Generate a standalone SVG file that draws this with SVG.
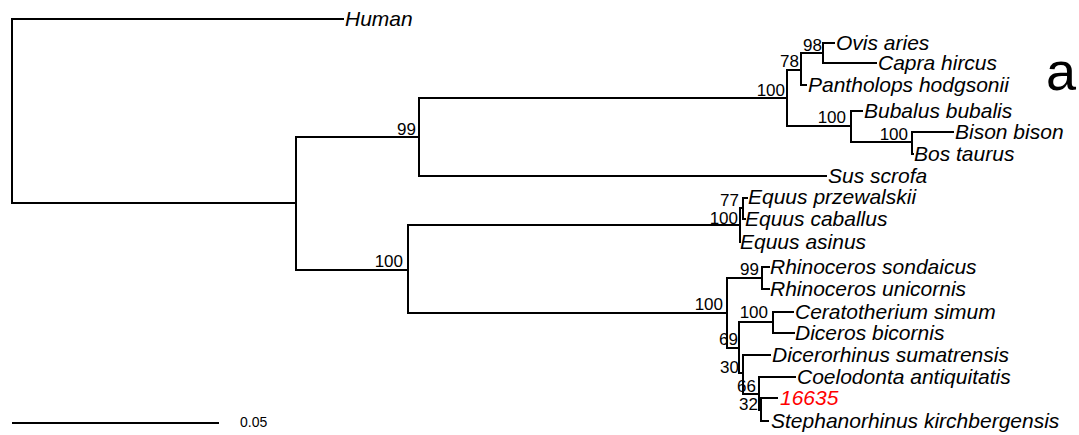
<svg xmlns="http://www.w3.org/2000/svg" width="1079" height="435" viewBox="0 0 1079 435">
  <style>
    .br { fill: none; stroke: #000; stroke-width: 2; stroke-linecap: square; stroke-linejoin: miter; }
    .tip { font-family: "Liberation Sans", Arial, sans-serif; font-style: italic; font-size: 21px; fill: #000; }
    .tip.hl { fill: #ff0000; }
    .bs { font-family: "Liberation Sans", Arial, sans-serif; font-size: 17px; fill: #000; text-anchor: end; }
    .scale { font-family: "Liberation Sans", Arial, sans-serif; font-size: 14px; fill: #000; }
    .panel { font-family: "Liberation Sans", Arial, sans-serif; font-size: 54px; fill: #000; }
  </style>
  <rect width="1079" height="435" fill="#fff"/>

  <!-- branches: each edge runs vertically from the parent node, then horizontally to the child -->
  <g id="connectors" class="br">
    <path d="M12,111 V19 H343"/>
    <path d="M12,111 V203 H296"/>
    <path d="M296,203 V137 H419"/>
    <path d="M296,203 V270 H408"/>
    <path d="M419,137 V98 H787"/>
    <path d="M419,137 V176 H826"/>
    <path d="M787,98 V70 H801"/>
    <path d="M787,98 V126 H851"/>
    <path d="M801,70 V53 H823"/>
    <path d="M801,70 V85 H806"/>
    <path d="M823,53 V43 H834"/>
    <path d="M823,53 V63 H876"/>
    <path d="M851,126 V111 H862"/>
    <path d="M851,126 V142 H912"/>
    <path d="M912,142 V132 H953"/>
    <path d="M912,142 V154 H913"/>
    <path d="M408,270 V225 H740"/>
    <path d="M408,270 V313 H727"/>
    <path d="M740,225 V208 H743"/>
    <path d="M740,225 V242 H740"/>
    <path d="M743,208 V198 H747"/>
    <path d="M743,208 V219 H745"/>
    <path d="M727,313 V278 H762"/>
    <path d="M727,313 V348 H739"/>
    <path d="M762,278 V267 H769"/>
    <path d="M762,278 V289 H769"/>
    <path d="M739,348 V322 H773"/>
    <path d="M739,348 V373 H743"/>
    <path d="M773,322 V312 H793"/>
    <path d="M773,322 V333 H794"/>
    <path d="M743,373 V355 H770"/>
    <path d="M743,373 V394 H759"/>
    <path d="M759,394 V377 H795"/>
    <path d="M759,394 V410 H761"/>
    <path d="M761,410 V398 H777"/>
    <path d="M761,410 V421 H768"/>
  </g>

  <!-- internal nodes with bootstrap support -->
  <g id="node-laurasiatheria"/>
  <g id="node-cetartiodactyla"><text class="bs" x="416" y="135">99</text></g>
  <g id="node-bovidae"><text class="bs" x="785" y="96">100</text></g>
  <g id="node-caprinae"><text class="bs" x="799" y="67">78</text></g>
  <g id="node-ovis-capra"><text class="bs" x="822" y="51">98</text></g>
  <g id="node-bovinae"><text class="bs" x="846" y="123">100</text></g>
  <g id="node-bison-bos"><text class="bs" x="908" y="140">100</text></g>
  <g id="node-perissodactyla"><text class="bs" x="403" y="267">100</text></g>
  <g id="node-equidae"><text class="bs" x="738" y="224">100</text></g>
  <g id="node-equus-pc"><text class="bs" x="739" y="206">77</text></g>
  <g id="node-rhinocerotidae"><text class="bs" x="723" y="310">100</text></g>
  <g id="node-rhinoceros"><text class="bs" x="759" y="275">99</text></g>
  <g id="node-dicerotini-plus"><text class="bs" x="738" y="345">69</text></g>
  <g id="node-dicerotini"><text class="bs" x="768" y="318">100</text></g>
  <g id="node-dicerorhinini"><text class="bs" x="739" y="373">30</text></g>
  <g id="node-coelodonta-group"><text class="bs" x="756" y="392">66</text></g>
  <g id="node-stephanorhinus-group"><text class="bs" x="758" y="410">32</text></g>

  <!-- leaves -->
  <g id="tip-human"><text class="tip" x="345" y="26">Human</text></g>
  <g id="tip-ovis"><text class="tip" x="836" y="50">Ovis aries</text></g>
  <g id="tip-capra"><text class="tip" x="878" y="70">Capra hircus</text></g>
  <g id="tip-pantholops"><text class="tip" x="808" y="92">Pantholops hodgsonii</text></g>
  <g id="tip-bubalus"><text class="tip" x="864" y="118">Bubalus bubalis</text></g>
  <g id="tip-bison"><text class="tip" x="955" y="139">Bison bison</text></g>
  <g id="tip-bos"><text class="tip" x="914" y="161">Bos taurus</text></g>
  <g id="tip-sus"><text class="tip" x="828" y="183">Sus scrofa</text></g>
  <g id="tip-equus-przewalskii"><text class="tip" x="748" y="204">Equus przewalskii</text></g>
  <g id="tip-equus-caballus"><text class="tip" x="745" y="226">Equus caballus</text></g>
  <g id="tip-equus-asinus"><text class="tip" x="740" y="249">Equus asinus</text></g>
  <g id="tip-rhinoceros-sondaicus"><text class="tip" x="770" y="274">Rhinoceros sondaicus</text></g>
  <g id="tip-rhinoceros-unicornis"><text class="tip" x="770" y="296">Rhinoceros unicornis</text></g>
  <g id="tip-ceratotherium"><text class="tip" x="795" y="319">Ceratotherium simum</text></g>
  <g id="tip-diceros"><text class="tip" x="795" y="340">Diceros bicornis</text></g>
  <g id="tip-dicerorhinus"><text class="tip" x="772" y="362">Dicerorhinus sumatrensis</text></g>
  <g id="tip-coelodonta"><text class="tip" x="797" y="384">Coelodonta antiquitatis</text></g>
  <g id="tip-16635"><text class="tip hl" x="780" y="405">16635</text></g>
  <g id="tip-stephanorhinus"><text class="tip" x="771" y="428">Stephanorhinus kirchbergensis</text></g>

  <!-- panel letter -->
  <text class="panel" x="1046" y="90">a</text>

  <!-- scale bar -->
  <g id="scale-bar">
    <line class="br" x1="13" y1="423" x2="218" y2="423"/>
    <text class="scale" x="240" y="427">0.05</text>
  </g>
</svg>
